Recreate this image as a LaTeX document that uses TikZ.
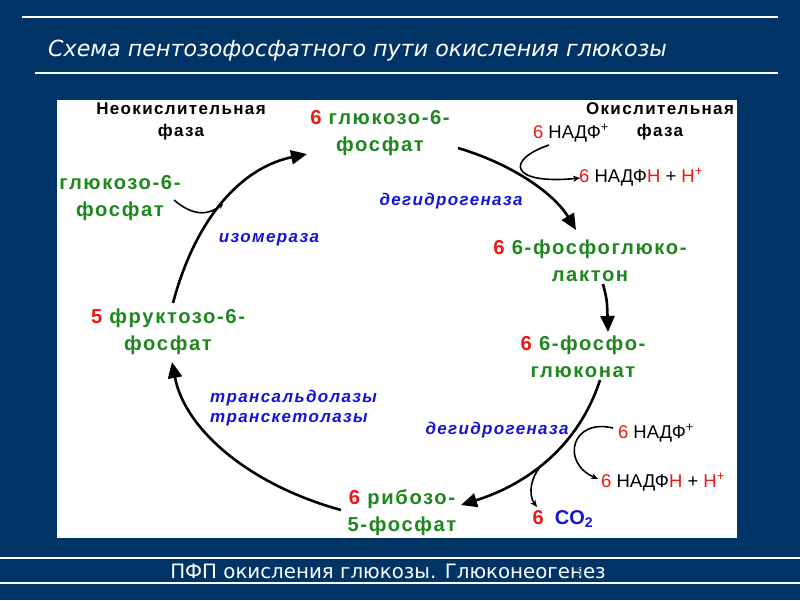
\documentclass[tikz,border=0pt]{standalone}
\usepackage{fontspec}
\setmainfont{Liberation Sans}
\newfontfamily\dejavu{DejaVu Sans}
\usetikzlibrary{arrows.meta}
\definecolor{bg}{RGB}{0,51,102}
\definecolor{grn}{RGB}{30,135,30}
\definecolor{rd}{RGB}{235,25,25}
\definecolor{blu}{RGB}{20,20,215}
\begin{document}
\begin{tikzpicture}[x=1pt,y=-1pt,
  mol/.style={font=\bfseries\fontsize{20.2}{27}\selectfont\addfontfeature{LetterSpace=8}, text=grn, align=center, inner sep=0pt},
  phase/.style={font=\bfseries\fontsize{17}{22}\selectfont\addfontfeature{LetterSpace=8}, text=black, align=center, inner sep=0pt},
  enz/.style={font=\bfseries\itshape\fontsize{17}{20}\selectfont\addfontfeature{LetterSpace=8}, text=blu, align=left, inner sep=0pt},
  cof/.style={font=\fontsize{18.5}{20}\selectfont, text=black, inner sep=0pt},
  main/.style={line width=2.6pt, -{Triangle[length=16pt,width=14pt]}},
  side/.style={line width=1.6pt, -{Stealth[length=7pt,width=6pt]}},
  rule/.style={white, line width=1.2pt}]
\fill[bg] (0,0) rectangle (800,600);
\useasboundingbox (0,0) rectangle (800,600);
% header
\draw[rule] (22,17) -- (778,17);
\node[anchor=west, text=white, font=\dejavu\itshape\fontsize{22.2}{24}\selectfont, inner sep=0pt] (title) at (48,51) {Схема пентозофосфатного пути окисления глюкозы};
\draw[rule] (35,73) -- (778,73);
% white panel
\fill[white] (57,100) rectangle (737,538);
% footer
\draw[rule] (0,558) -- (800,558);
\draw[rule] (0,583) -- (800,583);
\node[text=white, font=\dejavu\fontsize{19.8}{22}\selectfont, inner sep=0pt] (foot) at (388,571) {ПФП окисления глюкозы. Глюконеогенез};
\node[text=bg!60!gray, font=\dejavu\fontsize{11}{12}\selectfont, inner sep=0pt] (pnum) at (579,573) {5};

% phases
\node[phase] (nonox) at (181,121) {Неокислительная\\фаза};
\node[phase] (ox) at (660,121) {Окислительная\\фаза};

% molecules
\node[mol] (g6p) at (380,133) {{\color{rd}6} глюкозо-6-\\фосфат};
\node[mol] (g6pin) at (120,198) {глюкозо-6-\\фосфат};
\node[mol] (lac) at (590,261) {{\color{rd}6} 6-фосфоглюко-\\лактон};
\node[mol] (glu) at (583,357) {{\color{rd}6} 6-фосфо-\\глюконат};
\node[mol] (rib) at (402,513) {{\color{rd}6} рибозо-\\5-фосфат};
\node[mol] (fru) at (168,332) {{\color{rd}5} фруктозо-6-\\фосфат};

% enzymes
\node[enz] (isom) at (269,240) {изомераза};
\node[enz] (dh1) at (451,201) {дегидрогеназа};
\node[enz] (dh2) at (497,430) {дегидрогеназа};
\node[enz, anchor=west] (trans) at (210,408) {трансальдолазы\\транскетолазы};

% cofactors
\node[cof] (nadp1) at (571,133) {{\color{rd}6} НАДФ\textsuperscript{+}};
\node[cof] (nadph1) at (641,177) {{\color{rd}6} НАДФ{\color{rd}Н} + {\color{rd}Н}\textsuperscript{\color{rd}+}};
\node[cof] (nadp2) at (656,433) {{\color{rd}6} НАДФ\textsuperscript{+}};
\node[cof] (nadph2) at (663,482) {{\color{rd}6} НАДФ{\color{rd}Н} + {\color{rd}Н}\textsuperscript{\color{rd}+}};
\node[font=\bfseries\fontsize{20}{22}\selectfont, inner sep=0pt] (co2) at (563,519) {{\color{rd}6}\ \ {\color{blu}CO\textsubscript{2}}};

% connector end points
\coordinate (a1s) at (458,148);
\coordinate (a1e) at (576,230);
\coordinate (a2s) at (603,284);
\coordinate (a2e) at (608,332);
\coordinate (a3s) at (600,380);
\coordinate (a3e) at (461,505);
\coordinate (a4s) at (341,510);
\coordinate (a4e) at (172,362);
\coordinate (a5s) at (173,303);
\coordinate (a5e) at (307,154);
\coordinate (b1s) at (549,145);
\coordinate (b1e) at (580,178);
\coordinate (b2s) at (613,428);
\coordinate (b2e) at (598,479);
\coordinate (b3s) at (545,462);
\coordinate (b3e) at (537,507);
\coordinate (b4s) at (174,200);
\coordinate (b4e) at (223,204);

% main cycle
\draw[main] (a1s) .. controls (515,165) and (555,195) .. (a1e);
\draw[main] (a2s) .. controls (607,300) .. (a2e);
\draw[main] (a3s) .. controls (578,448) and (525,485) .. (a3e);
\draw[main] (a4s) .. controls (250,485) and (185,430) .. (a4e);
\draw[main] (a5s) .. controls (195,220) and (240,168) .. (a5e);

% side reactions
\draw[side] (b1s) .. controls (505,160) and (510,185) .. (b1e);
\draw[side] (b2s) .. controls (572,418) and (560,462) .. (b2e);
\draw[side] (b3s) .. controls (530,475) and (528,495) .. (b3e);
\draw[line width=1.6pt, -{Stealth[length=5pt,width=5pt]}] (b4s) .. controls (195,218) and (210,214) .. (b4e);
\end{tikzpicture}
\end{document}
